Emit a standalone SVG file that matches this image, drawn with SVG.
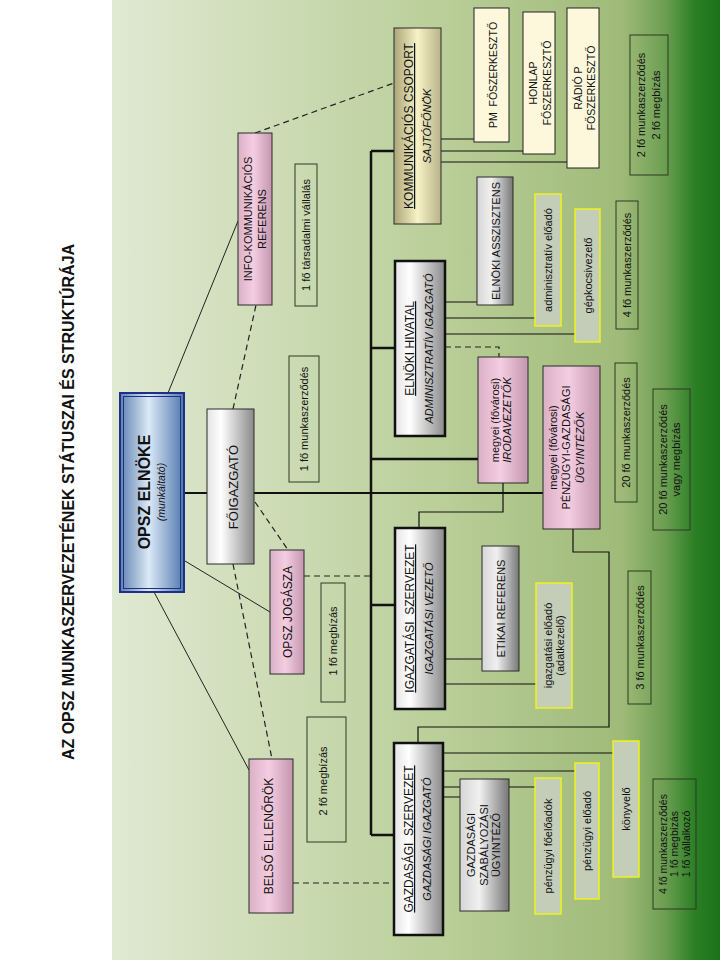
<svg xmlns="http://www.w3.org/2000/svg" width="720" height="960" viewBox="0 0 720 960">
<defs>
<linearGradient id="bg" x1="0" y1="0" x2="1" y2="0">
<stop offset="0" stop-color="#e0e9d2"/>
<stop offset="0.55" stop-color="#b9ce98"/>
<stop offset="0.84" stop-color="#9fba78"/>
<stop offset="0.91" stop-color="#6c9e52"/>
<stop offset="0.96" stop-color="#2a7e24"/>
<stop offset="1" stop-color="#1b711a"/>
</linearGradient>
<linearGradient id="gBlue" x1="0" y1="0" x2="1" y2="0">
<stop offset="0" stop-color="#5e82b2"/>
<stop offset="0.45" stop-color="#dce9f6"/>
<stop offset="1" stop-color="#4f78ad"/>
</linearGradient>
<linearGradient id="gGray" x1="0" y1="0" x2="1" y2="0">
<stop offset="0" stop-color="#e4e4e4"/>
<stop offset="0.3" stop-color="#ffffff"/>
<stop offset="1" stop-color="#8a8a8a"/>
</linearGradient>
<linearGradient id="gGrayD" x1="0" y1="0" x2="1" y2="0">
<stop offset="0" stop-color="#d6d6d6"/>
<stop offset="0.4" stop-color="#f0f0f0"/>
<stop offset="1" stop-color="#777777"/>
</linearGradient>
<linearGradient id="gPink" x1="0" y1="0" x2="1" y2="0">
<stop offset="0" stop-color="#dab0c5"/>
<stop offset="0.45" stop-color="#f5cde1"/>
<stop offset="1" stop-color="#c396ad"/>
</linearGradient>
<linearGradient id="gYel" x1="0" y1="0" x2="1" y2="0">
<stop offset="0" stop-color="#aba578"/>
<stop offset="0.5" stop-color="#f7f3c6"/>
<stop offset="1" stop-color="#b8b288"/>
</linearGradient>
</defs>
<style>
text{font-family:"Liberation Sans",Arial,sans-serif;font-size:11px;fill:#111;text-anchor:middle}
.t12{font-size:12px}
.it{font-style:italic}
.ul{text-decoration:underline}
.box{stroke:#2a2a2a;stroke-width:1}
.big{fill:url(#gGray);stroke:#111;stroke-width:2.5}
.gray{fill:url(#gGray)}
.grayd{fill:url(#gGrayD)}
.pink{fill:url(#gPink)}
.yel{fill:url(#gYel)}
.cream{fill:#fdf8dc;stroke:#222;stroke-width:1}
.ybox{fill:#c4cdb8;stroke:#eef21e;stroke-width:1.5}
.info{fill:none;stroke:#2d3a22;stroke-width:1}
.thick{fill:none;stroke:#111;stroke-width:2.5}
.thin{fill:none;stroke:#111;stroke-width:1.2}
.diag{fill:none;stroke:#222;stroke-width:1}
.dash{fill:none;stroke:#222;stroke-width:1.2;stroke-dasharray:6 4}
</style>
<rect x="0" y="0" width="720" height="960" fill="#ffffff"/>
<rect x="112" y="0" width="608" height="960" fill="url(#bg)"/>

<g id="title"><text transform="translate(74 502) rotate(-90)" style="font-size:16px;font-weight:bold">AZ OPSZ MUNKASZERVEZETÉNEK STÁTUSZAI ÉS STRUKTÚRÁJA</text></g>

<g id="connectors">
<path class="thick" d="M371,151 V835 M371,151 H394 M371,835 H394 M371,348 H395 M371,605 H395 M371,459 H478"/>
<path class="thick" style="stroke-width:2" d="M184,493 H207 M254,493 H543"/>
<path class="thin" d="M441,139 H474 M441,151 H523 M441,162 H567"/>
<path class="thin" d="M445,302 H477 M445,318 H535 M445,334 H575"/>
<path class="dash" d="M445,347 H499 V357"/>
<path class="thin" d="M503,483 V512 H419 V528"/>
<path class="thin" d="M573,529 V552 H609 V727 H418 V743"/>
<path class="thin" d="M445,659 H482 M445,684 H536"/>
<path class="thin" d="M443,753 H613 M443,771 H575 M443,787 H460 M443,797 H460 M509,787 H535"/>
<path class="diag" d="M168,393 L238,221 M185,561 L270,612 M154,592 L249,770"/>
<path class="dash" d="M255,133 L394,83 M233,409 L256,305 M255,502 L288,550 M233,564 L272,759 M304,576 H371 M293,883 H394"/>
</g>

<g id="elnoke">
<rect x="120" y="393" width="64" height="199" fill="url(#gBlue)" stroke="#1f2f86" stroke-width="2"/>
<rect x="123.5" y="396.5" width="57" height="192" fill="none" stroke="#1f2f86" stroke-width="1"/>
<text transform="translate(152 492) rotate(-90)"><tspan x="0" y="-2" style="font-size:16px;font-weight:bold">OPSZ ELNÖKE</tspan><tspan x="0" y="13" class="it" style="font-size:10.5px">(munkáltató)</tspan></text>
</g>
<g id="foigazgato">
<rect class="box gray" x="207" y="409" width="47" height="155"/>
<text transform="translate(230.5 487) rotate(-90)" y="7" style="font-size:13px">FŐIGAZGATÓ</text>
</g>
<g id="info-referens">
<rect class="box pink" x="238" y="133" width="34" height="172"/>
<text transform="translate(255 219) rotate(-90)"><tspan x="0" y="-3">INFO-KOMMUNIKÁCIÓS</tspan><tspan x="0" y="11">REFERENS</tspan></text>
</g>
<g id="n-tarsadalmi">
<rect class="info" x="295" y="164" width="22" height="142"/>
<text transform="translate(306 235) rotate(-90)" y="4">1 fő társadalmi vállalás</text>
</g>
<g id="n-munka1">
<rect class="info" x="289" y="356" width="30" height="126"/>
<text transform="translate(304 419) rotate(-90)" y="4">1 fő munkaszerződés</text>
</g>
<g id="jogasza">
<rect class="box pink" x="270" y="550" width="34" height="124"/>
<text class="t12" transform="translate(287 612) rotate(-90)" y="5">OPSZ JOGÁSZA</text>
</g>
<g id="n-megbizas1">
<rect class="info" x="321" y="583" width="24" height="119"/>
<text transform="translate(333 641) rotate(-90)" y="4">1 fő megbízás</text>
</g>
<g id="n-megbizas2">
<rect class="info" x="307" y="717" width="39" height="125"/>
<text transform="translate(326.5 781) rotate(-90)" y="0">2 fő megbízás</text>
</g>
<g id="belso">
<rect class="box pink" x="249" y="759" width="44" height="154"/>
<text class="t12" transform="translate(271 836) rotate(-90)" y="2">BELSŐ ELLENŐRÖK</text>
</g>
<g id="kommunikacios">
<rect class="box yel" x="394" y="28" width="47" height="196"/>
<text transform="translate(417.5 126) rotate(-90)"><tspan x="0" y="-4.5" class="t12 ul">KOMMUNIKÁCIÓS CSOPORT</tspan><tspan x="0" y="13" class="it">SAJTÓFŐNÖK</tspan></text>
</g>
<g id="pm">
<rect class="cream" x="474" y="8" width="35" height="134"/>
<text transform="translate(491.5 75) rotate(-90)" y="5" style="font-size:10.5px">PM&#160; FŐSZERKESZTŐ</text>
</g>
<g id="honlap">
<rect class="cream" x="523" y="12" width="32" height="142"/>
<text transform="translate(539 83) rotate(-90)" style="font-size:10.5px"><tspan x="0" y="-2">HONLAP</tspan><tspan x="0" y="12">FŐSZERKESZTŐ</tspan></text>
</g>
<g id="radio">
<rect class="cream" x="567" y="8" width="32" height="160"/>
<text transform="translate(583 88) rotate(-90)" style="font-size:10.5px"><tspan x="0" y="-1">RÁDIÓ P</tspan><tspan x="0" y="11.5">FŐSZERKESZTŐ</tspan></text>
</g>
<g id="n-komm">
<rect class="info" x="630" y="35" width="38" height="140"/>
<text transform="translate(649 105) rotate(-90)"><tspan x="0" y="-4">2 fő munkaszerződés</tspan><tspan x="0" y="11">2 fő megbízás</tspan></text>
</g>
<g id="elnoki-hivatal">
<rect class="big" x="395" y="261" width="50" height="175"/>
<text transform="translate(420 348.5) rotate(-90)"><tspan x="0" y="-6" class="t12 ul">ELNÖKI HIVATAL</tspan><tspan x="0" y="12.5" class="it">ADMINISZTRATÍV IGAZGATÓ</tspan></text>
</g>
<g id="asszisztens">
<rect class="box grayd" x="477" y="177" width="36" height="128"/>
<text transform="translate(495 241) rotate(-90)" y="4.5">ELNÖKI ASSZISZTENS</text>
</g>
<g id="admin-eloado">
<rect class="ybox" x="535" y="194" width="26" height="132"/>
<text transform="translate(548 260) rotate(-90)" y="4">adminisztratív előadó</text>
</g>
<g id="gepkocsi">
<rect class="ybox" x="575" y="209" width="25" height="133"/>
<text transform="translate(587.5 275.5) rotate(-90)" y="4">gépkocsivezető</text>
</g>
<g id="n-elnoki">
<rect class="info" x="616" y="201" width="22" height="128"/>
<text transform="translate(627 265) rotate(-90)" y="4">4 fő munkaszerződés</text>
</g>
<g id="irodavezetok">
<rect class="box pink" x="478" y="357" width="50" height="126"/>
<text transform="translate(503 420) rotate(-90)"><tspan x="0" y="-4">megyei (fővárosi)</tspan><tspan x="0" y="8" class="it">IRODAVEZETŐK</tspan></text>
</g>
<g id="penzugyi-ugyintezok">
<rect class="box pink" x="543" y="366" width="57" height="163"/>
<text transform="translate(571.5 447.5) rotate(-90)"><tspan x="0" y="-15">megyei (fővárosi)</tspan><tspan x="0" y="-1.5">PÉNZÜGYI-GAZDASÁGI</tspan><tspan x="0" y="12" class="it">ÜGYINTÉZŐK</tspan></text>
</g>
<g id="n-iroda">
<rect class="info" x="615" y="363" width="22" height="139"/>
<text transform="translate(626 432.5) rotate(-90)" y="4">20 fő munkaszerződés</text>
</g>
<g id="n-penzugyi">
<rect class="info" x="653" y="389" width="37" height="141"/>
<text transform="translate(671.5 459.5) rotate(-90)"><tspan x="0" y="-5">20 fő munkaszerződés</tspan><tspan x="0" y="8.5">vagy megbízás</tspan></text>
</g>
<g id="igazgatasi">
<rect class="big" x="395" y="528" width="50" height="181"/>
<text transform="translate(420 618.5) rotate(-90)"><tspan x="0" y="-6" class="t12 ul">IGAZGATÁSI&#160; SZERVEZET</tspan><tspan x="0" y="12.5" class="it">IGAZGATÁSI VEZETŐ</tspan></text>
</g>
<g id="etikai">
<rect class="box grayd" x="482" y="546" width="37" height="125"/>
<text transform="translate(500.5 608.5) rotate(-90)" y="4">ETIKAI REFERENS</text>
</g>
<g id="igazgatasi-eloado">
<rect class="ybox" x="536" y="583" width="36" height="125"/>
<text transform="translate(554 645.5) rotate(-90)"><tspan x="0" y="-2">igazgatási előadó</tspan><tspan x="0" y="9.5">(adatkezelő)</tspan></text>
</g>
<g id="n-igazgatasi">
<rect class="info" x="628" y="571" width="23" height="133"/>
<text transform="translate(639.5 637.5) rotate(-90)" y="4">3 fő munkaszerződés</text>
</g>
<g id="gazdasagi">
<rect class="big" x="394" y="743" width="49" height="192"/>
<text transform="translate(418.5 839) rotate(-90)"><tspan x="0" y="-5.5" class="t12 ul">GAZDASÁGI&#160; SZERVEZET</tspan><tspan x="0" y="12.5" class="it">GAZDASÁGI IGAZGATÓ</tspan></text>
</g>
<g id="szabalyozasi">
<rect class="box grayd" x="460" y="779" width="49" height="132"/>
<text transform="translate(484.5 845) rotate(-90)"><tspan x="0" y="-10">GAZDASÁGI</tspan><tspan x="0" y="3">SZABÁLYOZÁSI</tspan><tspan x="0" y="15.5">ÜGYINTÉZŐ</tspan></text>
</g>
<g id="penzugyi-foeloadok">
<rect class="ybox" x="535" y="778" width="26" height="136"/>
<text transform="translate(548 846) rotate(-90)" y="4">pénzügyi főelőadók</text>
</g>
<g id="penzugyi-eloado">
<rect class="ybox" x="575" y="763" width="24" height="136"/>
<text transform="translate(587 831) rotate(-90)" y="4">pénzügyi előadó</text>
</g>
<g id="konyvelo">
<rect class="ybox" x="613" y="741" width="26" height="136"/>
<text transform="translate(626 809) rotate(-90)" y="4">könyvelő</text>
</g>
<g id="n-gazdasagi">
<rect class="info" x="653" y="779" width="43" height="130"/>
<text transform="translate(674.5 844) rotate(-90)" style="font-size:10.5px"><tspan x="0" y="-8">4 fő munkaszerződés</tspan><tspan x="0" y="3.5">1 fő megbízás</tspan><tspan x="0" y="15">1 fő vállalkozó</tspan></text>
</g>
</svg>
